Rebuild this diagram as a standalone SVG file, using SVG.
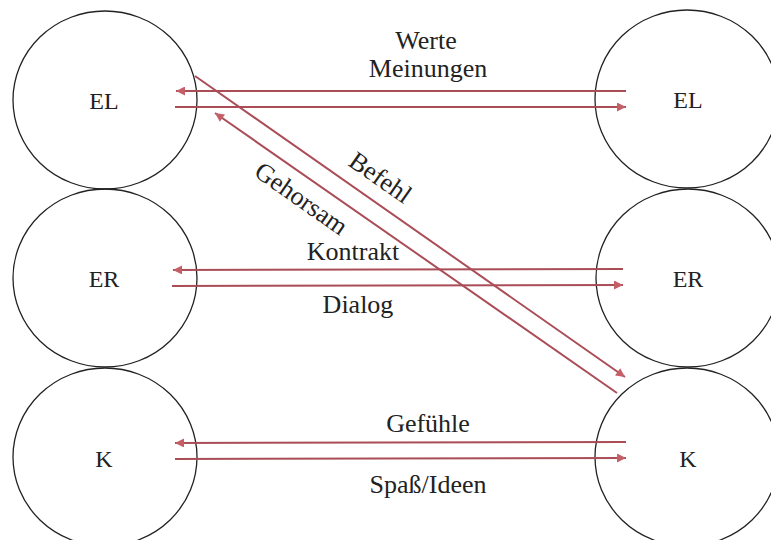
<svg xmlns="http://www.w3.org/2000/svg" width="771" height="540" viewBox="0 0 771 540">
<style>
.node{fill:none;stroke:#222;stroke-width:1.3}
.nl{font-family:"Liberation Serif",serif;font-size:24px;fill:#222;text-anchor:middle}
.lbl{font-family:"Liberation Serif",serif;font-size:26px;fill:#222;text-anchor:middle}
.ae{stroke:#aa4d57;stroke-width:2;fill:none;marker-end:url(#ah)}
</style>
<defs>
<marker id="ah" viewBox="0 0 10 10" refX="10" refY="5" markerWidth="11" markerHeight="9" markerUnits="userSpaceOnUse" orient="auto">
<path d="M0,0 L10,5 L0,10 Z" fill="#c45f68"/>
</marker>
</defs>
<rect width="771" height="540" fill="#fff"/>
<g id="EL-left"><ellipse class="node" cx="105" cy="100" rx="92" ry="89"/><text class="nl" x="104" y="109">EL</text></g>
<g id="ER-left"><ellipse class="node" cx="105" cy="278" rx="92" ry="89"/><text class="nl" x="104" y="287">ER</text></g>
<g id="K-left"><ellipse class="node" cx="105" cy="457" rx="92" ry="89"/><text class="nl" x="104" y="467">K</text></g>
<g id="EL-right"><ellipse class="node" cx="687" cy="99" rx="92" ry="89"/><text class="nl" x="688" y="108">EL</text></g>
<g id="ER-right"><ellipse class="node" cx="688" cy="278" rx="92" ry="89"/><text class="nl" x="688" y="287">ER</text></g>
<g id="K-right"><ellipse class="node" cx="687" cy="457" rx="92" ry="89"/><text class="nl" x="688" y="467">K</text></g>
<g id="connectors">
<line class="ae" x1="626" y1="91" x2="176" y2="91"/>
<line class="ae" x1="175" y1="107" x2="626" y2="107"/>
<line class="ae" x1="623" y1="269" x2="173" y2="270"/>
<line class="ae" x1="172" y1="286" x2="623" y2="285"/>
<line class="ae" x1="626" y1="442" x2="175" y2="443"/>
<line class="ae" x1="175" y1="459" x2="626" y2="458"/>
<line class="ae" x1="195" y1="76" x2="625" y2="377"/>
<line class="ae" x1="617" y1="393" x2="215" y2="113"/>
</g>
<g id="labels">
<text class="lbl" x="426" y="49">Werte</text>
<text class="lbl" x="428" y="77">Meinungen</text>
<text class="lbl" x="353" y="260">Kontrakt</text>
<text class="lbl" x="358" y="313">Dialog</text>
<text class="lbl" x="428" y="432">Gefühle</text>
<text class="lbl" x="428" y="493">Spaß/Ideen</text>
<text class="lbl" transform="translate(380,178) rotate(35)" x="0" y="8">Befehl</text>
<text class="lbl" transform="translate(301,199) rotate(35)" x="0" y="8">Gehorsam</text>
</g>
</svg>
